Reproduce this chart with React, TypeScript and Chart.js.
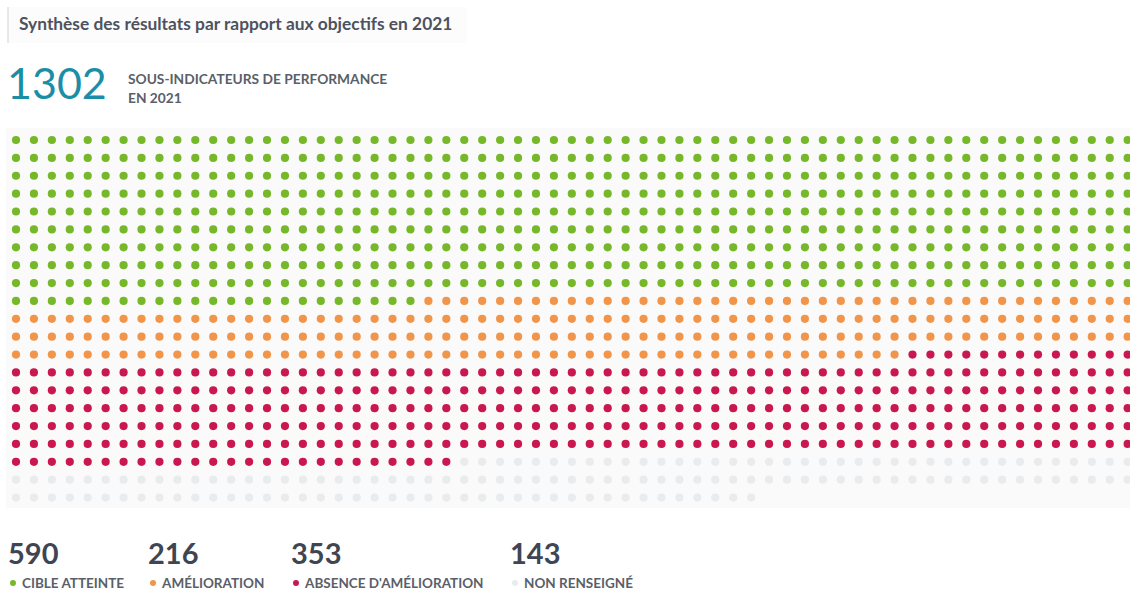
import React, { useEffect, useRef } from "react";
import { Chart, registerables } from "chart.js";

Chart.register(...registerables);

// Totals per status of the performance sub-indicators (2021)
const TOTAL = 1302;
const categories = ["CIBLE ATTEINTE", "AMÉLIORATION", "ABSENCE D'AMÉLIORATION", "NON RENSEIGNÉ"];
const counts = [590, 216, 353, 143];
const colors = ["#76b82a", "#f0954a", "#c8184f", "#e8ecef"];

// One dot per sub-indicator, filled row by row
const COLUMNS = 63;

const FONT = "Lato, 'Open Sans', sans-serif";

function buildDatasets() {
  let index = 0;
  return categories.map((label, c) => {
    const data: { x: number; y: number }[] = [];
    for (let k = 0; k < counts[c]; k++) {
      data.push({ x: index % COLUMNS, y: Math.floor(index / COLUMNS) });
      index++;
    }
    return {
      label,
      data,
      backgroundColor: colors[c],
      borderWidth: 0,
      pointRadius: 4.1,
      pointHoverRadius: 4.5,
    };
  });
}

function DotGrid() {
  const ref = useRef<HTMLCanvasElement | null>(null);
  useEffect(() => {
    if (!ref.current) return;
    const W = 1130;
    const H = 380;
    const stepX = 17.93;
    const stepY = 17.88;
    const x0 = 16; // first column centre
    const y0 = 12; // first row centre
    const xMin = -x0 / stepX;
    const yMin = -y0 / stepY;
    const chart = new Chart(ref.current, {
      type: "scatter",
      data: { datasets: buildDatasets() as any },
      options: {
        animation: false,
        responsive: false,
        devicePixelRatio: 1,
        layout: { padding: 0, autoPadding: false },
        plugins: { legend: { display: false }, tooltip: { enabled: false } },
        scales: {
          x: { type: "linear", display: false, min: xMin, max: xMin + W / stepX },
          y: { type: "linear", display: false, reverse: true, min: yMin, max: yMin + H / stepY },
        },
      },
    });
    return () => chart.destroy();
  }, []);
  return (
    <canvas
      ref={ref}
      width={1130}
      height={380}
      style={{ position: "absolute", left: 0, top: 128, width: 1130, height: 380 }}
    />
  );
}

const legendX = [8, 148, 291, 510];

export default function App() {
  return (
    <div
      style={{
        position: "fixed",
        left: 0,
        top: 0,
        width: 1130,
        height: 592,
        background: "#ffffff",
        fontFamily: FONT,
        overflow: "hidden",
      }}
    >
      {/* title with side rule */}
      <div
        style={{
          position: "absolute",
          left: 7,
          top: 7,
          height: 36,
          width: 458,
          borderLeft: "2px solid #e6e8eb",
          background: "#fcfcfc",
        }}
      />
      <div
        style={{
          position: "absolute",
          left: 19,
          top: 13,
          fontSize: 17.35,
          fontWeight: 700,
          color: "#4d5260",
          whiteSpace: "nowrap",
          lineHeight: "22px",
        }}
      >
        Synthèse des résultats par rapport aux objectifs en 2021
      </div>

      {/* headline total */}
      <div
        style={{
          position: "absolute",
          left: 7,
          top: 57,
          fontSize: 43,
          fontWeight: 400,
          color: "#1b8ea6",
          lineHeight: "52px",
        }}
      >
        {TOTAL}
      </div>
      <div
        style={{
          position: "absolute",
          left: 128,
          top: 69,
          fontSize: 13.75,
          fontWeight: 700,
          color: "#5a5f69",
          lineHeight: "19px",
          whiteSpace: "nowrap",
        }}
      >
        SOUS-INDICATEURS DE PERFORMANCE
        <br />
        EN 2021
      </div>

      {/* dot grid panel */}
      <div
        style={{
          position: "absolute",
          left: 6,
          top: 128,
          width: 1124,
          height: 380,
          background: "#fafafa",
        }}
      />
      <DotGrid />

      {/* totals and legend */}
      {categories.map((label, i) => (
        <React.Fragment key={label}>
          <div
            style={{
              position: "absolute",
              left: legendX[i],
              top: 536,
              fontSize: 29,
              fontWeight: 700,
              color: "#3f4552",
              lineHeight: "34px",
            }}
          >
            {counts[i]}
          </div>
          <div
            style={{
              position: "absolute",
              left: legendX[i] + 1,
              top: 575,
              fontSize: 13.5,
              fontWeight: 700,
              color: "#5a5f69",
              lineHeight: "16px",
              whiteSpace: "nowrap",
              display: "flex",
              alignItems: "center",
            }}
          >
            <span
              style={{
                display: "inline-block",
                width: 6,
                height: 6,
                borderRadius: 3,
                background: colors[i],
                marginLeft: 1,
                marginRight: 6,
              }}
            />
            {label}
          </div>
        </React.Fragment>
      ))}
    </div>
  );
}
